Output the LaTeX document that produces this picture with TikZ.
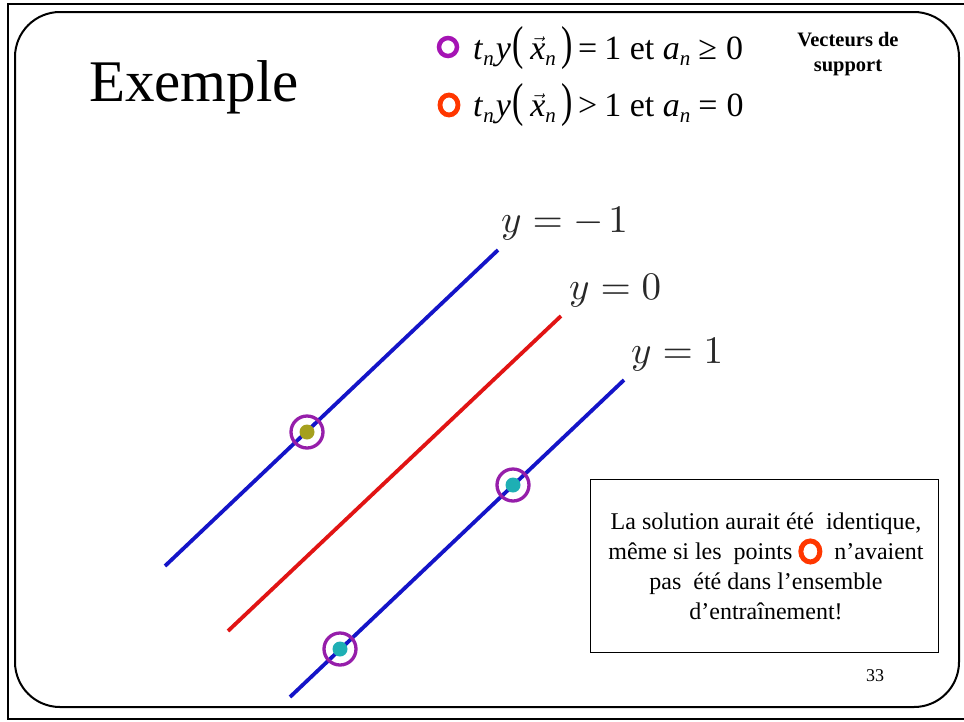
\documentclass[tikz,border=0pt]{standalone}
\usepackage{fontspec}
\setmainfont{Liberation Serif}
\usepackage{graphicx}
\usetikzlibrary{shapes.geometric}
\newcommand{\subn}{\raisebox{-0.4ex}{\fontsize{21}{21}\selectfont\textit{n}}}
\newcommand{\tallp}[1]{\scalebox{1}[1.4]{#1}}
\newcommand{\bigmath}[1]{\scalebox{3.9}{$#1$}}
\begin{document}
\begin{tikzpicture}[x=1pt,y=-1pt,
  bline/.style={line width=3.8pt,draw={rgb,255:red,20;green,20;blue,200}},
  rline/.style={line width=3.8pt,draw={rgb,255:red,225;green,20;blue,20}},
  ring/.style={circle,draw={rgb,255:red,150;green,30;blue,170},line width=3.3pt,minimum size=32pt,inner sep=0pt},
  dotA/.style={circle,fill={rgb,255:red,165;green,160;blue,30},minimum size=15pt,inner sep=0pt},
  dotB/.style={circle,fill={rgb,255:red,30;green,175;blue,180},minimum size=15pt,inner sep=0pt},
  lbl/.style={inner sep=0pt,text={rgb,255:red,40;green,40;blue,40},font=\fontsize{10}{12}\selectfont},
  frm/.style={inner sep=0pt,anchor=west,font=\fontsize{34}{36}\selectfont}
]
\useasboundingbox (0,0) rectangle (964,721);
\fill[white] (0,0) rectangle (964,721);
\draw[line width=1.5pt] (8,4) rectangle (966,719);
\draw[line width=2pt,rounded corners=45pt] (15,12) rectangle (959,707);

\node[inner sep=0pt,anchor=west,font=\fontsize{59}{62}\selectfont] (title) at (89,87) {Exemple};

% legend
\node[circle,draw={rgb,255:red,165;green,20;blue,180},line width=4.5pt,minimum size=18pt,inner sep=0pt] (lp) at (448,47) {};
\node[ellipse,draw={rgb,255:red,255;green,55;blue,0},line width=4.8pt,minimum width=18pt,minimum height=20pt,inner sep=0pt] (lo) at (449,105) {};
\node[frm] (f1) at (473,48) {\textit{t}\subn\kern2pt\textit{y}\kern2pt\tallp{(}\kern6pt$\vec{\mbox{\textit{x}}}$\subn\kern6pt\tallp{)}\kern5pt=\kern7pt1 et \textit{a}\subn\kern8pt≥\kern9pt0};
\node[frm] (f2) at (473,105) {\textit{t}\subn\kern2pt\textit{y}\kern2pt\tallp{(}\kern6pt$\vec{\mbox{\textit{x}}}$\subn\kern6pt\tallp{)}\kern5pt>\kern7pt1 et \textit{a}\subn\kern8pt=\kern9pt0};
\node[inner sep=0pt,align=center,font=\bfseries\fontsize{20.5}{25}\selectfont] (vs) at (848,54) {Vecteurs de\\support};

% lines
\coordinate (a1) at (165,566); \coordinate (a2) at (498,250);
\coordinate (b1) at (228,631); \coordinate (b2) at (561,316);
\coordinate (c1) at (290,697); \coordinate (c2) at (624,380);
\draw[bline] (a1) -- (a2);
\draw[rline] (b1) -- (b2);
\draw[bline] (c1) -- (c2);

\node[lbl,anchor=west] (ym1) at (501,224) {\bigmath{y=-\mkern2mu1}};
\node[lbl,anchor=west] (y0) at (569,291) {\bigmath{y=0}};
\node[lbl,anchor=west] (yp1) at (631,355) {\bigmath{y=1}};

% points
\node[dotA] (p1) at (307,432) {};
\node[ring] (r1) at (307,432) {};
\node[dotB] (p2) at (513,485) {};
\node[ring] (r2) at (513,485) {};
\node[dotB] (p3) at (340,649) {};
\node[ring] (r3) at (340,649) {};

% text box
\node[draw,line width=0.8pt,minimum width=348pt,minimum height=173pt,inner sep=0pt] (box) at (764,565.5) {};
\node[inner sep=0pt,align=center,font=\fontsize{24}{30}\selectfont] (txt) at (766,566) {La solution aurait été~ identique,\\même si les~ points \tikz[baseline=-0.7ex]\draw[draw={rgb,255:red,255;green,55;blue,0},line width=5pt] (0,0) ellipse (9.5pt and 10.5pt);~ n’avaient\\pas~ été dans l’ensemble\\d’entraînement!};

\node[inner sep=0pt,font=\fontsize{18}{20}\selectfont] (pg) at (875,676) {33};
\end{tikzpicture}
\end{document}
